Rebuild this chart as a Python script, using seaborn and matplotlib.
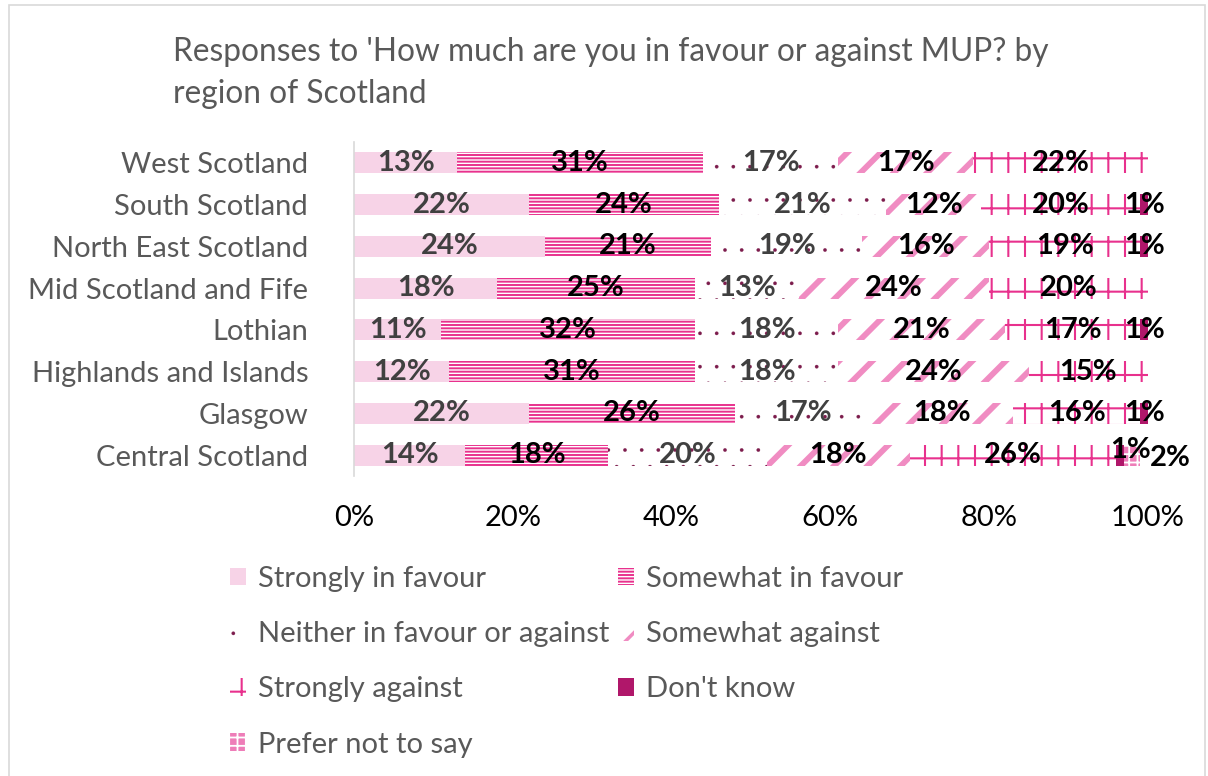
import matplotlib
matplotlib.use("Agg")
import matplotlib.pyplot as plt
from matplotlib.patches import Patch, Rectangle
import seaborn as sns
import pandas as pd
import numpy as np

# ---- data -------------------------------------------------------------
regions = ["West Scotland", "South Scotland", "North East Scotland",
           "Mid Scotland and Fife", "Lothian", "Highlands and Islands",
           "Glasgow", "Central Scotland"]
categories = ["Strongly in favour", "Somewhat in favour",
              "Neither in favour or against", "Somewhat against",
              "Strongly against", "Don't know", "Prefer not to say"]

strongly_in_favour = [13, 22, 24, 18, 11, 12, 22, 14]
somewhat_in_favour = [31, 24, 21, 25, 32, 31, 26, 18]
neither_for_nor_against = [17, 21, 19, 13, 18, 18, 17, 20]
somewhat_against = [17, 12, 16, 24, 21, 24, 18, 18]
strongly_against = [22, 20, 19, 20, 17, 15, 16, 26]
dont_know = [0, 1, 1, 0, 1, 0, 1, 1]
prefer_not_to_say = [0, 0, 0, 0, 0, 0, 0, 2]

x_ticks = [0, 20, 40, 60, 80, 100]
x_tick_labels = ["0%", "20%", "40%", "60%", "80%", "100%"]
title = "Responses to 'How much are you in favour or against MUP? by\nregion of Scotland"

series = [strongly_in_favour, somewhat_in_favour, neither_for_nor_against,
          somewhat_against, strongly_against, dont_know, prefer_not_to_say]

# ---- styling per response category --------------------------------------
styles = [
    dict(face="#F7D3E7", edge="#F7D3E7", hatch=None, hlw=1.0, text="#404040"),
    dict(face="white", edge="#E8318D", hatch="-----", hlw=1.4, text="black"),
    dict(face="white", edge="#7C1C4C", hatch=".", hlw=0.2, text="#404040"),
    dict(face="white", edge="#F08CC2", hatch="/", hlw=4.2, text="black"),
    dict(face="white", edge="#E8318D", hatch="+", hlw=1.5, text="black"),
    dict(face="#B0176A", edge="#B0176A", hatch=None, hlw=1.0, text="black"),
    dict(face="#EE7DB8", edge="white", hatch="++", hlw=1.3, text="black"),
]


def set_hatch_width(artist, lw):
    if hasattr(artist, "set_hatch_linewidth"):
        artist.set_hatch_linewidth(lw)


sns.set_theme(style="white")
plt.rcParams["font.family"] = ["Lato", "DejaVu Sans"]

FS = 21
W, H = 1208, 776
fig = plt.figure(figsize=(W / 100, H / 100), dpi=100)
fig.patch.set_facecolor("white")

# chart-area border
fig.add_artist(Rectangle((9 / W, -0.01), (1205 - 9) / W, 1 - 5 / H + 0.01,
                         transform=fig.transFigure, fill=False,
                         edgecolor="#D9D9D9", linewidth=1.2))

ax = fig.add_axes([354 / W, 1 - 476 / H, (1148 - 354) / W, (476 - 142) / H])

values = np.array(series, dtype=float)
ends = np.cumsum(values, axis=0)

# stacked bars: draw cumulative totals from the outermost segment inwards
for i in reversed(range(len(categories))):
    st = styles[i]
    frame = pd.DataFrame({"region": regions, "end": ends[i]})
    with plt.rc_context({"hatch.linewidth": st["hlw"]}):
        sns.barplot(data=frame, x="end", y="region", order=regions,
                    orient="h", color=st["face"], saturation=1,
                    edgecolor=st["edge"], linewidth=0, hatch=st["hatch"],
                    width=0.5, errorbar=None, ax=ax)
    for p in ax.patches[-len(regions):]:
        set_hatch_width(p, st["hlw"])

# value labels at the centre of each segment
label_offsets = {(7, 5): (10, -5), (7, 6): (38, 3)}
for i in range(len(categories)):
    starts = ends[i] - values[i]
    for r in range(len(regions)):
        v = values[i][r]
        if v <= 0:
            continue
        dx, dy = label_offsets.get((r, i), (0, 0))
        ax.annotate(f"{int(v)}%", (starts[r] + v / 2, r),
                    xytext=(dx * 0.72, -dy * 0.72), textcoords="offset points",
                    ha="center", va="center", fontsize=FS, fontweight="bold",
                    color=styles[i]["text"], zorder=5)

ax.set_xlim(0, 100)
ax.set_ylim(len(regions) - 0.5, -0.5)
ax.set_xticks(x_ticks)
ax.set_xticklabels(x_tick_labels)
ax.set_xlabel("")
ax.set_ylabel("")
ax.tick_params(axis="x", length=0, pad=21, labelsize=FS, labelcolor="black")
ax.tick_params(axis="y", length=0, pad=33, labelsize=FS, labelcolor="#595959")
for side in ["top", "right", "bottom"]:
    ax.spines[side].set_visible(False)
ax.spines["left"].set_color("#D9D9D9")
ax.spines["left"].set_linewidth(1.2)
ax.grid(False)

fig.text(173 / W, 1 - 37 / H, title, ha="left", va="top", fontsize=22.8,
         color="#595959", linespacing=1.5)

# legend, arranged column-wise in two columns
order = [0, 2, 4, 6, 1, 3, 5]
handles = []
for i in order:
    st = styles[i]
    with plt.rc_context({"hatch.linewidth": min(st["hlw"], 2.5)}):
        h = Patch(facecolor=st["face"], edgecolor=st["edge"], hatch=st["hatch"],
                  linewidth=0, label=categories[i])
    handles.append(h)
with plt.rc_context({"hatch.linewidth": 1.3}):
    leg = fig.legend(handles=handles, loc="upper left", ncol=2,
                     bbox_to_anchor=(230 / W, 1 - 566 / H), frameon=False,
                     fontsize=FS, handlelength=0.55, handleheight=0.55,
                     handletextpad=0.4, labelspacing=1.0, columnspacing=0.3,
                     borderpad=0, borderaxespad=0)
for t in leg.get_texts():
    t.set_color("#595959")
for h, i in zip(leg.legend_handles, order):
    set_hatch_width(h, min(styles[i]["hlw"], 2.5))

fig.savefig("out.png", dpi=100, facecolor="white")
